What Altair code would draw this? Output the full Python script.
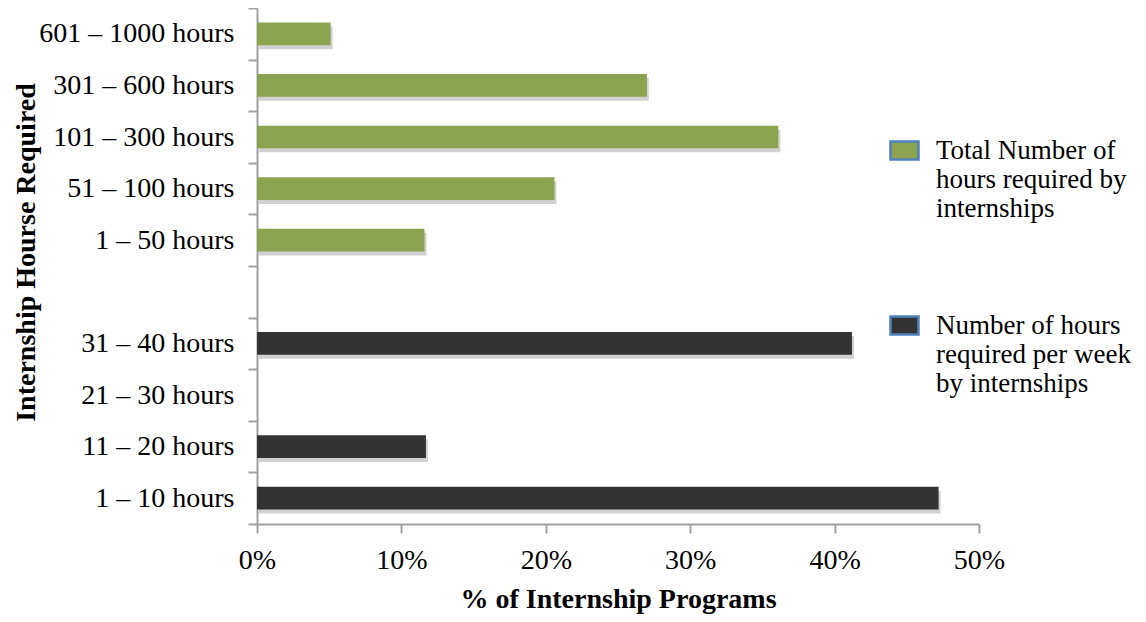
import altair as alt
import pandas as pd

# ---- data ----
categories = ["601 – 1000 hours", "301 – 600 hours", "101 – 300 hours",
              "51 – 100 hours", "1 – 50 hours", " ",
              "31 – 40 hours", "21 – 30 hours", "11 – 20 hours", "1 – 10 hours"]

total_cats = ["601 – 1000 hours", "301 – 600 hours", "101 – 300 hours",
              "51 – 100 hours", "1 – 50 hours"]
total_vals = [0.051, 0.270, 0.361, 0.206, 0.116]

week_cats = ["31 – 40 hours", "21 – 30 hours", "11 – 20 hours", "1 – 10 hours"]
week_vals = [0.412, 0.0, 0.117, 0.472]

series_names = ["Total Number of|hours required by|internships",
                "Number of hours|required per week|by internships"]
series_colors = ["#8BA34E", "#333333"]
x_ticks = [0, 0.1, 0.2, 0.3, 0.4, 0.5]

rows = [{"cat": c, "val": v, "series": series_names[0]} for c, v in zip(total_cats, total_vals)]
rows += [{"cat": c, "val": v, "series": series_names[1]} for c, v in zip(week_cats, week_vals)]
df = pd.DataFrame(rows)

FONT = "Liberation Serif"
FS = 28

y_enc = alt.Y("cat:N",
              scale=alt.Scale(domain=categories, paddingInner=0, paddingOuter=0),
              axis=alt.Axis(title="Internship Hourse Required", tickBand="extent",
                            labelFontSize=FS, labelFont=FONT, labelColor="#000000",
                            labelPadding=14, tickSize=9, labelLimit=400,
                            titleFontSize=FS, titleFont=FONT, titleFontWeight="bold",
                            titleColor="#000000", titleX=-231, titleY=244,
                            titleAngle=270, titleAlign="center", titleBaseline="middle"))

x_enc = alt.X("val:Q",
              scale=alt.Scale(domain=[0, 0.5], nice=False),
              axis=alt.Axis(title="% of Internship Programs", values=x_ticks, format=".0%",
                            grid=False, labelFontSize=FS, labelFont=FONT, labelColor="#000000",
                            labelPadding=13, tickSize=9, labelFlush=False,
                            titleFontSize=FS, titleFont=FONT, titleFontWeight="bold",
                            titleColor="#000000", titlePadding=11))

band = alt.RelativeBandSize(band=0.44)

shadow = alt.Chart(df).mark_bar(color="#000000", opacity=0.18, yOffset=4, xOffset=2,
                                height=band).encode(x=x_enc, y=y_enc)

bars = alt.Chart(df).mark_bar(height=band).encode(
    x=x_enc, y=y_enc,
    color=alt.Color("series:N",
                    scale=alt.Scale(domain=series_names, range=series_colors),
                    legend=alt.Legend(title=None, orient="none", legendX=632, legendY=127,
                                      symbolType="M-1,-0.65L1,-0.65L1,0.65L-1,0.65Z",
                                      symbolSize=784, symbolStrokeColor="#4F81BD",
                                      symbolStrokeWidth=2.5, symbolOpacity=1,
                                      labelFont=FONT, labelFontSize=27, labelColor="#000000",
                                      labelExpr="split(datum.label, '|')",
                                      labelLimit=400, labelOffset=16, rowPadding=88,
                                      labelBaseline="middle", padding=0)))

chart = alt.layer(shadow, bars).properties(
    width=722, height=516,
    autosize=alt.AutoSizeParams(type="none"),
    padding={"left": 249, "top": 0, "right": 159, "bottom": 90},
).configure_axis(
    domainColor="#a0a0a0", domainWidth=2, tickColor="#a0a0a0", tickWidth=2,
).configure_view(stroke="transparent")

chart.save("out.html", embed_options={"renderer": "svg", "actions": False})
